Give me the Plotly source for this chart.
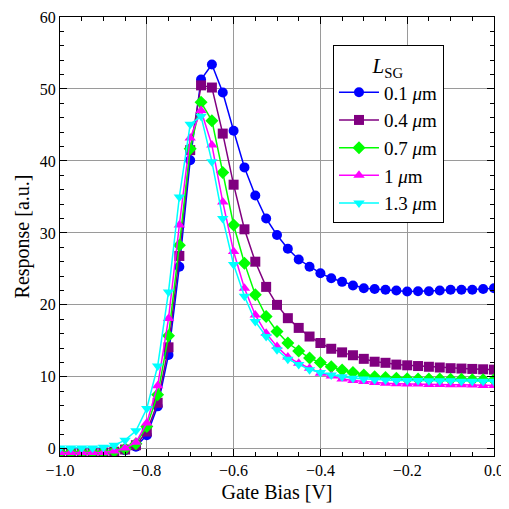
import plotly.graph_objects as go

gate_bias = [round(-1.0 + 0.025 * i, 3) for i in range(41)]

lsg_01 = [-0.5, -0.5, -0.5, -0.5, -0.5, -0.4, -0.2, 0.3, 1.9, 5.9, 13.05, 25.3, 40.1, 51.3, 53.4,
          49.5, 44.2, 39.1, 35.2, 32.0, 29.7, 27.8, 26.3, 25.3, 24.4, 23.7, 23.2, 22.7, 22.3, 22.2,
          22.1, 22.0, 21.85, 21.9, 21.9, 22.0, 22.1, 22.1, 22.1, 22.2, 22.3]
lsg_04 = [-0.5, -0.5, -0.5, -0.5, -0.5, -0.4, -0.1, 0.5, 2.4, 6.4, 14.1, 26.8, 41.5, 50.5, 50.2,
          43.8, 36.7, 30.5, 26.0, 22.5, 20.0, 18.15, 16.8, 15.6, 14.7, 13.9, 13.4, 13.0, 12.5, 12.1,
          11.95, 11.7, 11.6, 11.5, 11.4, 11.3, 11.2, 11.15, 11.1, 11.05, 11.0]
lsg_07 = [-0.5, -0.5, -0.5, -0.5, -0.5, -0.35, 0.0, 0.7, 3.1, 7.5, 15.7, 28.3, 41.7, 48.15, 45.6,
          38.4, 31.1, 25.8, 21.4, 18.4, 16.3, 14.7, 13.6, 12.6, 12.0, 11.4, 10.95, 10.6, 10.25, 10.0,
          9.9, 9.8, 9.75, 9.7, 9.7, 9.7, 9.65, 9.65, 9.6, 9.6, 9.6]
lsg_10 = [-0.5, -0.5, -0.5, -0.5, -0.5, -0.3, 0.1, 0.9, 3.6, 8.75, 18.1, 31.1, 43.2, 47.0, 42.2,
          34.3, 27.4, 22.3, 18.6, 16.05, 14.2, 12.75, 11.9, 11.2, 10.5, 10.1, 9.7, 9.5, 9.35, 9.2,
          9.1, 9.05, 9.0, 9.0, 8.95, 8.95, 8.9, 8.9, 8.85, 8.8, 8.8]
lsg_13 = [0.1, 0.1, 0.1, 0.1, 0.2, 0.5, 1.2, 2.5, 5.6, 11.5, 21.8, 35.0, 45.1, 46.2, 39.9,
          32.0, 25.6, 21.2, 17.7, 15.6, 13.75, 12.45, 11.7, 11.0, 10.6, 10.25, 10.0, 9.8, 9.7, 9.6,
          9.55, 9.5, 9.5, 9.5, 9.45, 9.45, 9.45, 9.4, 9.4, 9.4, 9.4]

series_names = ["0.1 <i>μ</i>m", "0.4 <i>μ</i>m", "0.7 <i>μ</i>m", "1 <i>μ</i>m", "1.3 <i>μ</i>m"]
series_values = [lsg_01, lsg_04, lsg_07, lsg_10, lsg_13]
colors = ["#0000FF", "#800080", "#00FF00", "#FF00FF", "#00FFFF"]
symbols = ["circle", "square", "diamond", "triangle-up", "triangle-down"]

fig = go.Figure()
for name, vals, c, s in zip(series_names, series_values, colors, symbols):
    fig.add_trace(go.Scatter(
        x=gate_bias, y=vals, mode="lines+markers", name=name,
        line=dict(color=c, width=1.5),
        marker=dict(symbol=s, size=10, color=c, line=dict(width=0)),
    ))

font = "Liberation Serif"
axis_common = dict(
    showline=True, linecolor="black", linewidth=1, mirror="ticks",
    ticks="inside", ticklen=7, tickcolor="black", tickwidth=1,
    showgrid=True, gridcolor="#9a9a9a", gridwidth=1, zeroline=False,
    tickfont=dict(family=font, size=16, color="black"),
    automargin=False,
)

# The page body adds an 8px offset, so the figure is sized to fill the rest of the window.
fig.update_layout(
    width=501, height=501,
    margin=dict(l=52, r=15, t=9, b=53),
    plot_bgcolor="white", paper_bgcolor="white",
    font=dict(family=font, color="black"),
    xaxis=dict(range=[-1.0, 0.0], dtick=0.2, tickformat=".1f",
               minor=dict(dtick=0.05, ticks="inside", ticklen=4, tickcolor="black", showgrid=False),
               title=dict(text="Gate Bias [V]", font=dict(family=font, size=20), standoff=6),
               **axis_common),
    yaxis=dict(range=[-1.0, 60.0], dtick=10,
               minor=dict(dtick=2, ticks="inside", ticklen=4, tickcolor="black", showgrid=False),
               title=dict(text="Response [a.u.]", font=dict(family=font, size=20), standoff=4),
               **axis_common),
    legend=dict(
        x=0.629, y=0.936, xanchor="left", yanchor="top",
        bordercolor="black", borderwidth=1, bgcolor="white",
        font=dict(family=font, size=19, color="black"),
        title=dict(text="<i>L</i><sub>SG</sub>", font=dict(family=font, size=21), side="top center"),
        itemwidth=40,
        tracegroupgap=0,
    ),
)

fig.write_html("out.html")
